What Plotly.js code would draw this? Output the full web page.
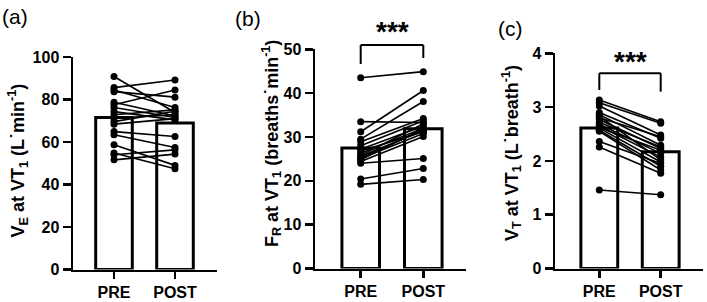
<!DOCTYPE html>
<html><head><meta charset="utf-8">
<script src="https://cdn.plot.ly/plotly-3.0.1.min.js"></script>
<style>html,body{margin:0;padding:0;background:#fff;}</style>
</head><body>
<div id="chart" style="width:707px;height:302px;"></div>
<script>
// ---- data ----
const categories = ["PRE", "POST"];

// (a) VE at VT1 (L·min-1)
const vePre  = [90.8, 85.6, 84.5, 83.7, 78.7, 77.5, 76.2, 74.3, 72.8, 71.2, 69.6, 68.4, 64.9, 63.4, 58.7, 54.8, 54.0, 51.6];
const vePost = [73.9, 89.2, 76.2, 81.1, 72.2, 84.5, 71.5, 70.4, 75.1, 72.8, 74.5, 71.0, 62.6, 57.4, 49.0, 47.4, 56.3, 54.3];
const veMean = [71.5, 69.0];
const veTicks = [0, 20, 40, 60, 80, 100];

// (b) FR at VT1 (breaths·min-1)
const frPre  = [43.5, 33.5, 31.2, 29.5, 28.9, 28.0, 27.2, 26.3, 25.6, 25.1, 24.8, 24.4, 24.0, 20.4, 19.2, 25.8, 26.8, 25.3];
const frPost = [44.9, 33.3, 40.6, 38.1, 34.2, 33.7, 32.5, 32.0, 31.4, 30.8, 31.9, 30.1, 25.1, 22.8, 20.3, 33.0, 31.2, 31.6];
const frMean = [27.5, 31.9];
const frTicks = [0, 10, 20, 30, 40, 50];

// (c) VT at VT1 (L·breath-1)
const vtPre  = [3.13, 3.08, 3.02, 2.90, 2.86, 2.80, 2.77, 2.72, 2.68, 2.65, 2.61, 2.57, 2.55, 2.36, 2.26, 1.46, 2.62, 2.83];
const vtPost = [2.73, 2.70, 2.48, 2.42, 2.29, 2.45, 2.23, 2.26, 2.14, 2.07, 1.98, 1.90, 1.83, 1.95, 1.77, 1.37, 2.20, 2.02];
const vtMean = [2.61, 2.17];
const vtTicks = [0, 1, 2, 3, 4];

const panelLabels = ["(a)", "(b)", "(c)"];
const yTitles = [
  "V<sub>E</sub> at VT<sub>1</sub> (L˙min<sup>-1</sup>)",
  "F<sub>R</sub> at VT<sub>1</sub> (breaths˙min<sup>-1</sup>)",
  "V<sub>T</sub> at VT<sub>1</sub> (L˙breath<sup>-1</sup>)"
];
const sigText = "***";

// ---- layout geometry (pixels in a 707x302 figure) ----
const W = 707, H = 302;
const FONT = "Liberation Sans, Arial, Helvetica, sans-serif";
const panels = [
  {pre: vePre, post: vePost, mean: veMean, ticks: veTicks,
   xL: 73, xR: 217, xPre: 114, xPost: 175, yB: 269.5, yT: 57,
   label: [15, 17], title: [18.5, 161], sig: null},
  {pre: frPre, post: frPost, mean: frMean, ticks: frTicks,
   xL: 315, xR: 466, xPre: 360.7, xPost: 423.3, yB: 268.5, yT: 49.3,
   label: [248, 19], title: [271, 144], sig: {top: 45, l: 64, r: 58, txt: 32}},
  {pre: vtPre, post: vtPost, mean: vtMean, ticks: vtTicks,
   xL: 555, xR: 703, xPre: 599.3, xPost: 660.7, yB: 268.5, yT: 53.3,
   label: [510, 28], title: [511, 153], sig: {top: 73.3, l: 90, r: 91.7, txt: 61}}
];

const traces = [];
const layout = {
  width: W, height: H,
  margin: {l: 0, r: 0, t: 0, b: 0},
  paper_bgcolor: "#fff", plot_bgcolor: "rgba(0,0,0,0)",
  showlegend: false,
  font: {family: FONT, color: "#000"},
  annotations: [], shapes: []
};

panels.forEach((p, i) => {
  const n = i + 1;
  const xa = "x" + (n === 1 ? "" : n), ya = "y" + (n === 1 ? "" : n);
  const xk = "xaxis" + (n === 1 ? "" : n), yk = "yaxis" + (n === 1 ? "" : n);
  const unit = p.xPost - p.xPre;
  const ymax = p.ticks[p.ticks.length - 1];

  traces.push({
    type: "bar", x: categories, y: p.mean, xaxis: xa, yaxis: ya,
    width: 0.6,
    marker: {color: "#fff", line: {color: "#000", width: 3}},
    hoverinfo: "skip"
  });
  const lx = [], ly = [];
  for (let k = 0; k < p.pre.length; k++) {
    lx.push(categories[0], categories[1], null);
    ly.push(p.pre[k], p.post[k], null);
  }
  traces.push({
    type: "scatter", mode: "lines+markers", x: lx, y: ly, xaxis: xa, yaxis: ya,
    connectgaps: false, cliponaxis: false,
    line: {color: "#000", width: 1.6},
    marker: {color: "#000", size: 7},
    hoverinfo: "skip"
  });

  layout[xk] = {
    type: "category", categoryorder: "array", categoryarray: categories,
    domain: [p.xL / W, p.xR / W],
    range: [(p.xL - p.xPre) / unit, (p.xR - p.xPre) / unit],
    anchor: ya, showline: true, linecolor: "#000", linewidth: 2.5,
    ticks: "outside", ticklen: 7, tickwidth: 2.5, tickcolor: "#000",
    showgrid: false, zeroline: false, fixedrange: true,
    tickfont: {family: FONT, size: 16, color: "#000", weight: 700}
  };
  layout[yk] = {
    domain: [1 - p.yB / H, 1 - p.yT / H],
    range: [0, ymax], tickvals: p.ticks, ticktext: p.ticks.map(String),
    anchor: xa, showline: true, linecolor: "#000", linewidth: 2.5,
    ticks: "outside", ticklen: 8, tickwidth: 2.5, tickcolor: "#000",
    showgrid: false, zeroline: false, fixedrange: true,
    tickfont: {family: FONT, size: 16, color: "#000", weight: 700}
  };

  layout.annotations.push({
    text: panelLabels[i], xref: "paper", yref: "paper",
    x: p.label[0] / W, y: 1 - p.label[1] / H, xanchor: "center", yanchor: "middle",
    showarrow: false, font: {family: FONT, size: 21, color: "#000"}
  });
  layout.annotations.push({
    text: yTitles[i], xref: "paper", yref: "paper", textangle: -90,
    x: p.title[0] / W, y: 1 - p.title[1] / H, xanchor: "center", yanchor: "middle",
    showarrow: false, font: {family: FONT, size: 18, color: "#000", weight: 700}
  });

  if (p.sig) {
    const s = p.sig;
    const line = {color: "#000", width: 2};
    layout.shapes.push(
      {type: "line", xref: xa, yref: "paper", x0: categories[0], x1: categories[0],
       y0: 1 - s.l / H, y1: 1 - s.top / H, line},
      {type: "line", xref: xa, yref: "paper", x0: categories[0], x1: categories[1],
       y0: 1 - s.top / H, y1: 1 - s.top / H, line},
      {type: "line", xref: xa, yref: "paper", x0: categories[1], x1: categories[1],
       y0: 1 - s.top / H, y1: 1 - s.r / H, line}
    );
    layout.annotations.push({
      text: sigText, xref: xa, yref: "paper", x: 0.5, y: 1 - s.txt / H,
      xanchor: "center", yanchor: "middle", showarrow: false,
      font: {family: FONT, size: 28, color: "#000", weight: 700}
    });
  }
});

Plotly.newPlot("chart", traces, layout, {displayModeBar: false, staticPlot: true});
</script>
</body></html>
